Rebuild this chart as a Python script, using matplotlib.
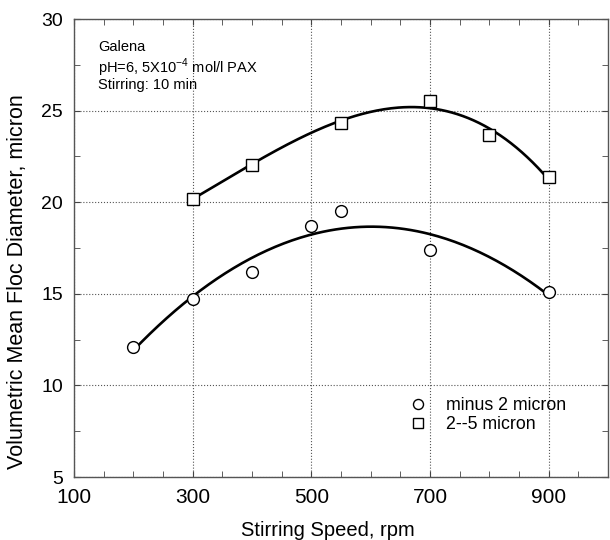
import numpy as np
import matplotlib
matplotlib.use("Agg")
import matplotlib.pyplot as plt
from matplotlib.ticker import MultipleLocator

plt.rcParams['font.family'] = ['Liberation Sans', 'DejaVu Sans']

# Data
speed_small = [200, 300, 400, 500, 550, 700, 900]
diam_small = [12.1, 14.7, 16.2, 18.7, 19.5, 17.4, 15.1]
speed_large = [300, 400, 550, 700, 800, 900]
diam_large = [20.2, 22.05, 24.35, 25.5, 23.65, 21.35]
label_small = "minus 2 micron"
label_large = "2--5 micron"

fig = plt.figure(figsize=(6.1, 5.4), dpi=100)
ax = fig.add_axes([74/610, 63/540, 534/610, 458/540])

# fitted curves
p1 = np.polyfit(speed_small, diam_small, 2)
xs1 = np.linspace(min(speed_small), max(speed_small), 200)
ax.plot(xs1, np.polyval(p1, xs1), color='black', lw=1.9, zorder=3)
p2 = np.polyfit(speed_large, diam_large, 3)
xs2 = np.linspace(min(speed_large), max(speed_large), 200)
ax.plot(xs2, np.polyval(p2, xs2), color='black', lw=1.9, zorder=3)

ax.plot(speed_small, diam_small, 'o', ms=8.5, mfc='white', mec='black', mew=1.0,
        zorder=4, label=label_small, linestyle='none')
ax.plot(speed_large, diam_large, 's', ms=8.5, mfc='white', mec='black', mew=1.0,
        zorder=4, label=label_large, linestyle='none')

ax.set_xlim(100, 1000)
ax.set_ylim(5, 30)
ax.set_xticks([100, 300, 500, 700, 900])
ax.set_yticks([5, 10, 15, 20, 25, 30])
ax.xaxis.set_minor_locator(MultipleLocator(50))
ax.yaxis.set_minor_locator(MultipleLocator(2.5))
ax.tick_params(which='both', direction='in', top=True, right=True, color='#444444', length=4)
ax.tick_params(axis='x', labelsize=15, pad=8)
ax.tick_params(axis='y', labelsize=14, pad=8)
ax.grid(True, which='major', linestyle=':', color='#555555', lw=0.8)
for s in ax.spines.values():
    s.set_color('#555555')
    s.set_linewidth(1.0)

ax.set_xlabel("Stirring Speed, rpm", fontsize=14.5, va='center')
ax.xaxis.set_label_coords(0.476, -0.116)
ax.set_ylabel("Volumetric Mean Floc Diameter, micron", fontsize=15.5, va='center')
ax.yaxis.set_label_coords(-0.105, 0.426)

ax.text(0.045, 0.955, "Galena", transform=ax.transAxes, fontsize=10.5, va='top', ha='left')
ax.text(0.045, 0.918, r"pH=6, 5X10$^{\mathregular{-4}}$ mol/l PAX", transform=ax.transAxes,
        fontsize=10.5, va='top', ha='left')
ax.text(0.045, 0.872, "Stirring: 10 min", transform=ax.transAxes, fontsize=10.5, va='top', ha='left')

leg = ax.legend(loc='upper left', bbox_to_anchor=(0.597, 0.19), frameon=False, fontsize=12.8,
                handletextpad=0.6, labelspacing=0.1, markerscale=0.85, borderaxespad=0)

fig.savefig("out.png", dpi=100)
